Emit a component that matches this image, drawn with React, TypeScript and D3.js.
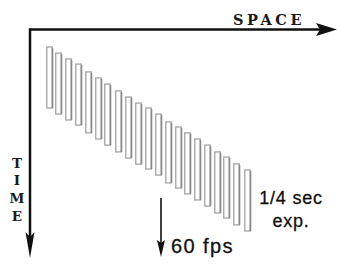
import React, { useEffect, useRef } from 'react';
import * as d3 from 'd3';

// Frames: space position (left edge, px from the time axis) and exposure start (ms)
const framePositions = [16, 25, 35, 45, 55, 65, 74, 85, 95, 105, 115, 125, 135, 145, 154, 164, 174, 184, 193, 203, 214];
const frameStarts = [0, 25, 49, 70, 102, 127, 152, 180, 205, 230, 250, 275, 307, 328, 352, 377, 402, 430, 451, 479, 504];
const exposureMs = 250;

const spaceLabel = 'SPACE';
const timeLetters = ['T', 'I', 'M', 'E'];
const exposureLabels = ['1/4 sec', 'exp.'];
const rateLabel = '60 fps';

const App = () => {
  const svgRef = useRef<SVGSVGElement>(null);

  useEffect(() => {
    const width = 337;
    const height = 267;
    const svg = d3.select(svgRef.current);
    svg.selectAll('*').remove();

    // Scales
    const xScale = d3.scaleLinear().domain([0, 300]).range([30, 330]);
    const yScale = d3.scaleLinear().domain([0, exposureMs]).range([47, 108]);
    const barWidth = 7;

    const frames = framePositions.map((p, i) => ({ p, t: frameStarts[i] }));

    // Frame bars
    const g = svg.append('g');
    g.selectAll('rect.frame')
      .data(frames)
      .join('rect')
      .attr('class', 'frame')
      .attr('x', (d) => xScale(d.p) + 0.75)
      .attr('y', (d) => yScale(d.t))
      .attr('width', barWidth - 1.5)
      .attr('height', (d) => yScale(d.t + exposureMs) - yScale(d.t))
      .attr('fill', '#fff')
      .attr('stroke', '#aaaaaa')
      .attr('stroke-width', 1.4);

    // darker right edge on each frame
    g.selectAll('line.shade')
      .data(frames)
      .join('line')
      .attr('class', 'shade')
      .attr('x1', (d) => xScale(d.p) + barWidth - 0.5)
      .attr('x2', (d) => xScale(d.p) + barWidth - 0.5)
      .attr('y1', (d) => yScale(d.t) + 1)
      .attr('y2', (d) => yScale(d.t + exposureMs))
      .attr('stroke', '#888')
      .attr('stroke-width', 1.6);

    // Axes
    const ox = xScale(0);
    const oy = 29.5;
    svg.append('line')
      .attr('x1', ox).attr('y1', oy).attr('x2', 322).attr('y2', oy)
      .attr('stroke', '#111').attr('stroke-width', 2.5);
    svg.append('path')
      .attr('d', `M316,23 L337,${oy} L316,36 L320,${oy} Z`)
      .attr('fill', '#111');

    svg.append('line')
      .attr('x1', ox).attr('y1', oy - 1.2).attr('x2', ox).attr('y2', 242)
      .attr('stroke', '#111').attr('stroke-width', 2.5);
    svg.append('path')
      .attr('d', `M${ox - 4.5},232 L${ox},258 L${ox + 4.5},232 L${ox},237 Z`)
      .attr('fill', '#111');

    svg.append('text')
      .attr('x', 233)
      .attr('y', 25)
      .attr('font-family', '"DejaVu Serif", serif')
      .attr('font-weight', 'bold')
      .attr('font-size', 14.5)
      .attr('letter-spacing', 3.6)
      .attr('fill', '#1a1a1a')
      .text(spaceLabel);

    svg.append('g')
      .selectAll('text')
      .data(timeLetters)
      .join('text')
      .attr('x', 17)
      .attr('y', (_, i) => 167.5 + i * 17.7)
      .attr('text-anchor', 'middle')
      .attr('font-family', '"DejaVu Serif", serif')
      .attr('font-weight', 'bold')
      .attr('font-size', 13.5)
      .attr('fill', '#1a1a1a')
      .text((d) => d);

    // Frame-rate arrow
    const ax = 161;
    svg.append('line')
      .attr('x1', ax).attr('y1', 198).attr('x2', ax).attr('y2', 246)
      .attr('stroke', '#111').attr('stroke-width', 1.6);
    svg.append('path')
      .attr('d', `M${ax - 4},240 L${ax},257 L${ax + 4},240 L${ax},243 Z`)
      .attr('fill', '#111');

    svg.append('text')
      .attr('x', 171)
      .attr('y', 253)
      .attr('font-family', '"Liberation Sans", Arial, sans-serif')
      .attr('font-size', 20)
      .attr('letter-spacing', 1.4)
      .attr('stroke', '#111')
      .attr('stroke-width', 0.3)
      .attr('fill', '#111')
      .text(rateLabel);

    svg.append('g')
      .selectAll('text')
      .data(exposureLabels)
      .join('text')
      .attr('x', 291)
      .attr('y', (_, i) => 203.5 + i * 23.5)
      .attr('text-anchor', 'middle')
      .attr('font-family', '"Liberation Sans", Arial, sans-serif')
      .attr('font-size', 18)
      .attr('letter-spacing', 0.8)
      .attr('stroke', '#111')
      .attr('stroke-width', 0.3)
      .attr('fill', '#111')
      .text((d) => d);

    svg.attr('width', width).attr('height', height);
  }, []);

  return (
    <svg
      ref={svgRef}
      width={337}
      height={267}
      style={{ position: 'absolute', left: 0, top: 0, background: '#fff' }}
    />
  );
};

export default App;
